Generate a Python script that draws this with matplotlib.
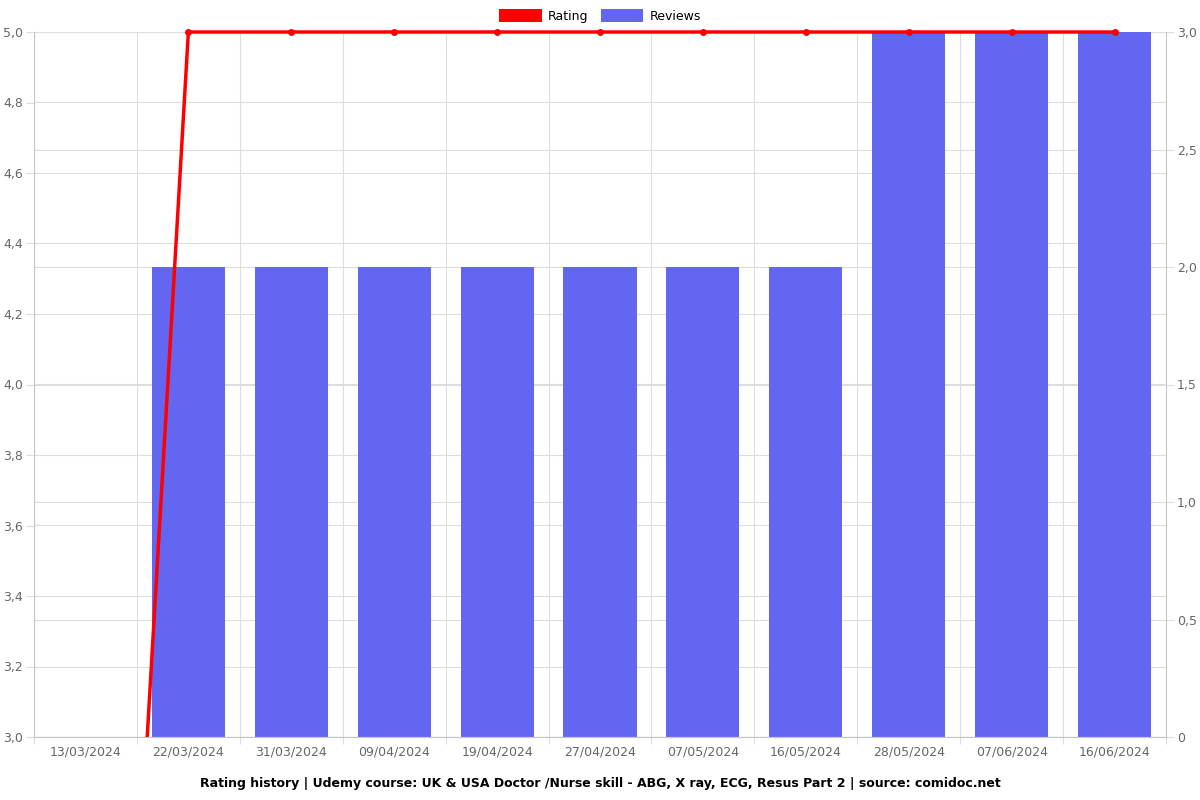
import matplotlib
matplotlib.use("Agg")
import matplotlib.pyplot as plt
from matplotlib.ticker import FuncFormatter, FixedLocator, MultipleLocator
from matplotlib.transforms import Bbox, TransformedBbox
from matplotlib.patches import Patch
import numpy as np

dates = ["13/03/2024", "22/03/2024", "31/03/2024", "09/04/2024", "19/04/2024",
         "27/04/2024", "07/05/2024", "16/05/2024", "28/05/2024", "07/06/2024", "16/06/2024"]
rating = [0, 5, 5, 5, 5, 5, 5, 5, 5, 5, 5]
reviews = [0, 2, 2, 2, 2, 2, 2, 2, 3, 3, 3]

RED = "#ff0000"
BLUE = "#6366f1"
GRID = "#dddddd"
SPINE = "#c8c8c8"
TXT = "#666666"

fig = plt.figure(figsize=(12, 8), dpi=100)
ax = fig.add_axes([34/1200, 1 - 737/800, (1166-34)/1200, (737-32)/800])
ax2 = ax.twinx()

x = np.arange(len(dates))

ax2.bar(x, reviews, width=0.71, color=BLUE, zorder=2)
ax2.set_ylim(0, 3)
ax2.yaxis.set_major_locator(MultipleLocator(0.5))

ax.set_zorder(ax2.get_zorder() + 1)
ax.patch.set_visible(False)
ax2.patch.set_visible(True)

line, = ax.plot(x, rating, color=RED, lw=2.5, marker="o", ms=4, zorder=5)
ax.set_ylim(3, 5)
ax.set_xlim(-0.5, len(dates) - 0.5)
line.set_clip_box(TransformedBbox(Bbox([[0, 0], [1, 1.01]]), ax.transAxes))

ax.yaxis.set_major_locator(MultipleLocator(0.2))

def fmt1(v, p):
    return f"{v:.1f}".replace(".", ",")

def fmt2(v, p):
    if abs(v) < 1e-9:
        return "0"
    return f"{v:.1f}".replace(".", ",")

ax.yaxis.set_major_formatter(FuncFormatter(fmt1))
ax2.yaxis.set_major_formatter(FuncFormatter(fmt2))

ax.xaxis.set_major_locator(FixedLocator(np.arange(-0.5, len(dates), 1.0)))
ax.xaxis.set_major_formatter(FuncFormatter(lambda v, p: ""))
ax.set_xticks(x, minor=True)
ax.set_xticklabels(dates, minor=True)
ax.tick_params(axis="x", which="minor", length=0, labelsize=9, labelcolor=TXT, pad=6)
ax.tick_params(axis="x", which="major", length=5, color=GRID)
ax.tick_params(axis="y", length=6, color=GRID, labelsize=9, labelcolor=TXT, pad=2)
ax2.tick_params(axis="y", length=6, color=GRID, labelsize=9, labelcolor=TXT, pad=2)

ax2.set_axisbelow(True)
ax2.grid(axis="y", color=GRID, lw=0.8, zorder=0)
ax2.set_xlim(ax.get_xlim())
for b in np.arange(-0.5, len(dates), 1.0):
    ax2.axvline(b, color=GRID, lw=0.8, zorder=0)
for yv in np.arange(3, 5.01, 0.2):
    ax2.axhline((yv - 3) / 2 * 3, color=GRID, lw=0.8, zorder=0)

for a in (ax, ax2):
    a.spines["top"].set_visible(False)
    for s in ("left", "right", "bottom"):
        a.spines[s].set_color(SPINE)
ax.spines["right"].set_visible(False)

handles = [Patch(facecolor=RED, label="Rating"), Patch(facecolor=BLUE, label="Reviews")]
fig.legend(handles=handles, loc="center", bbox_to_anchor=(0.5, 1 - 16/800), ncol=2,
           frameon=False, fontsize=9, handlelength=3.4, handleheight=1.2,
           columnspacing=1.0, handletextpad=0.5)

fig.text(0.5, 1 - 783/800, "Rating history | Udemy course: UK & USA Doctor /Nurse skill - ABG, X ray, ECG, Resus Part 2 | source: comidoc.net",
         ha="center", va="center", fontsize=9, fontweight="bold")

fig.savefig("out.png", dpi=100)
